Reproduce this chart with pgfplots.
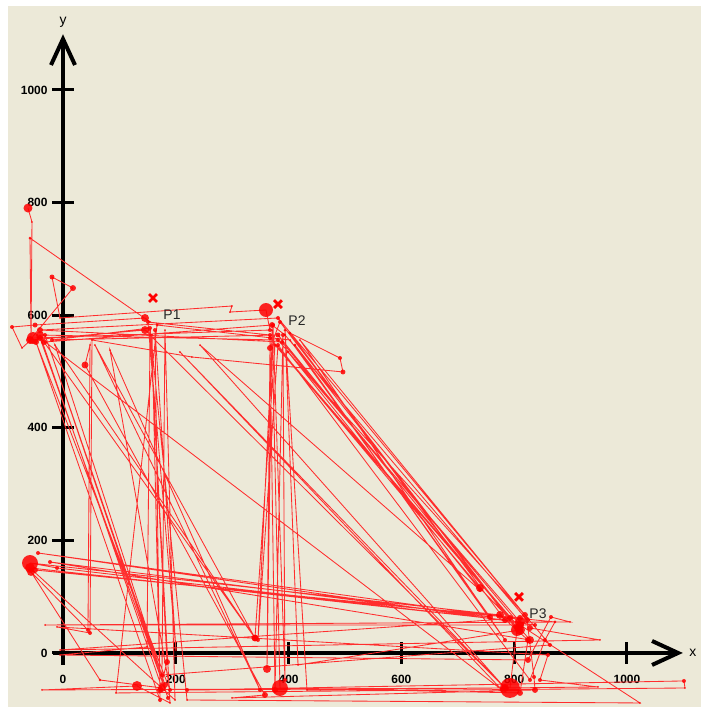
\documentclass[border=0pt]{standalone}
\usepackage{fontspec}
\setmainfont{Liberation Sans}
\usepackage{pgfplots}
\usepackage{pgfplotstable}
\pgfplotsset{compat=1.18}
\usetikzlibrary{arrows.meta}
\definecolor{bg}{RGB}{236,233,216}
\definecolor{tr}{RGB}{255,0,0}
\definecolor{trl}{RGB}{255,45,45}

\pgfplotstableread{
x y r
-62.1 790.3 4.5
-55.0 765.5 1
-56.7 559.4 1
-58.5 737.0 1.5
154.3 587.9 1
145.4 595.0 4
-49.6 582.5 2.5
-90.4 579.0 2
-72.7 541.7 1
-53.2 559.4 6
367.0 573.6 2
359.9 609.2 7
296.1 605.6 1
299.6 616.3 1
-5.3 595.0 1
-19.5 667.8 2.5
17.7 648.2 3
-58.5 555.9 4
145.4 573.6 4
157.8 564.8 1
172.0 -65.7 3
184.4 -16.0 3
154.3 573.6 1
189.7 -88.8 1
131.2 -58.6 5
-37.2 -65.7 1
792.5 -62.2 10
805.0 40.8 6
384.7 587.9 2
367.0 541.7 3
361.7 -28.4 4
370.6 573.6 1
384.7 -62.2 8
810.3 -71.0 3
824.4 23.1 3
774.8 67.5 4
-58.5 159.8 8
-10.6 151.0 2
810.3 55.1 5
381.2 555.9 2
-40.8 564.8 4
175.5 -62.2 4
65.6 -48.0 1.5
-56.7 143.9 4
44.3 40.8 2
47.9 547.0 1
39.0 511.5 3.5
358.1 -74.6 3
299.6 -79.9 1
836.9 -65.7 3
835.1 -42.6 2
822.7 58.6 3
393.6 564.8 1.5
370.6 582.5 3
-33.7 552.3 3
340.4 26.6 3.5
375.9 547.0 1.5
792.5 62.2 3
-44.3 177.6 2
836.9 49.7 2
-31.9 49.7 1
898.9 55.1 1
865.2 63.9 2
824.4 -12.4 3
-5.3 -3.6 1
148.9 10.7 1
154.3 564.8 1
783.7 -62.2 4
219.9 -65.7 2
1101.0 -49.7 2
1102.8 -62.2 1
94.0 -71.0 1
166.7 582.5 1.5
402.5 555.9 1
757.1 63.9 3
-23.0 161.6 2
828.0 23.1 4
367.0 559.4 2
739.3 115.4 4
810.3 40.8 5
416.7 -21.3 1
393.6 573.6 1.5
432.6 -65.7 1
948.6 -60.4 1
845.7 -48.0 2
859.9 -3.6 2
-10.6 46.2 1
47.9 35.5 2
51.4 555.9 1
228.7 525.7 1
496.4 499.1 2.5
491.1 523.9 2
402.5 568.3 1.5
783.7 58.6 3
-58.5 151.0 5
198.6 -83.5 1
180.8 573.6 1
175.5 -39.1 2
863.5 14.2 2
381.2 595.0 2
-40.8 573.6 3
388.3 552.3 2
810.3 49.7 4
1023.0 -88.8 1
219.9 -83.5 1
154.3 577.2 2
-19.5 555.9 2
381.2 564.8 2.5
805.0 44.3 3
411.3 547.0 1.5
783.7 23.1 2
420.2 555.9 1
819.1 67.5 3
398.9 534.6 1.5
739.3 111.9 2
242.9 547.0 1
783.7 -62.2 3
207.4 534.6 1
778.4 -65.7 2
-40.8 559.4 3
186.2 -79.9 2
-31.9 564.8 2
180.8 -56.8 3
-14.2 547.0 1
340.4 26.6 3
56.7 547.0 1
349.3 -65.7 2
83.3 538.1 1
189.7 -65.7 2
-47.9 552.3 3
172.0 -83.5 2
163.1 573.6 2
200.3 5.3 1
150.6 587.9 2
367.0 564.8 2
375.9 -65.7 3
390.0 564.8 2
393.6 -48.0 2
372.3 582.5 2
345.7 23.1 2
381.2 547.0 2
828.0 -48.0 2
854.5 23.1 2
872.3 55.1 1.5
-49.6 147.4 3
810.3 62.2 3
-5.3 5.3 1
952.1 23.1 1
828.0 44.4 3
}\gaze

\pgfplotstableread{
x y lab
159.6 630.5 P1
381.2 619.8 P2
808.5 99.5 P3
}\targets

\begin{document}
\begin{tikzpicture}
\fill[white] (0,0) rectangle (701bp,707bp);
\fill[bg] (8bp,0) rectangle (701bp,701bp);
\begin{axis}[
  at={(52.85bp,42.2bp)}, anchor=south west,
  x=0.564bp, y=0.563bp,
  xmin=-18, xmax=1099, ymin=-21, ymax=1099,
  axis lines=middle,
  axis line style={line width=4bp, black, -{Straight Barb[length=26bp,width=24bp]}},
  xtick={0,200,...,1000}, ytick={0,200,...,1000},
  hide obscured x ticks=false, hide obscured y ticks=false,
  tick align=center, major tick length=22bp,
  every tick/.style={black, line width=3bp},
  /pgf/number format/assume math mode=true,
  /pgf/number format/1000 sep={},
  every tick label/.append style={font=\fontsize{12}{14}\selectfont\bfseries, text=black},
  xticklabel style={anchor=center, yshift=-15bp},
  yticklabel style={anchor=east, xshift=-1bp},
  clip=false,
  xlabel={x}, ylabel={y},
  every axis x label/.style={at={(axis description cs:1.016,0.01875)}, anchor=center, font=\fontsize{14}{16}\selectfont},
  every axis y label/.style={at={(axis description cs:0.0161,1.0194)}, anchor=center, font=\fontsize{14}{16}\selectfont},
]
\addplot[color=trl, line width=0.85bp, no marks] table[x=x,y=y] {\gaze};
\addplot[scatter, only marks, mark=*, point meta=\thisrow{r},
  scatter/use mapped color={draw=tr, fill=tr},
  mark options={draw=tr, fill=tr, line width=0pt, fill opacity=0.85, draw opacity=0},
  visualization depends on={\thisrow{r} \as \rr},
  scatter/@pre marker code/.append style={/tikz/mark size=\rr}]
  table[x=x,y=y] {\gaze};
\addplot[only marks, mark=x, mark size=5.5bp, line width=2.8bp, tr,
  nodes near coords, point meta=explicit symbolic,
  every node near coord/.style={anchor=center, xshift=19bp, yshift=-17bp, text=black!85, font=\fontsize{14}{16}\selectfont}]
  table[x=x,y=y,meta=lab] {\targets};
\end{axis}
\pgfresetboundingbox
\path (0,0) rectangle (701bp,707bp);
\end{tikzpicture}
\end{document}
